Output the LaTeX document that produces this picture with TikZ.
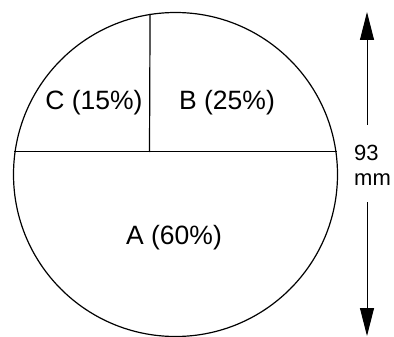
\documentclass[tikz,border=0pt]{standalone}
\usepackage{fontspec}
\setmainfont{Liberation Sans}
\usetikzlibrary{arrows.meta}
\begin{document}
\begin{tikzpicture}[x=1pt,y=-1pt,
  lbl/.style={inner sep=0pt,font=\fontsize{26.5}{30}\selectfont},
  dim/.style={inner sep=0pt,font=\fontsize{22}{24}\selectfont},
  part/.style={line width=1.2pt},
  dimline/.style={line width=1pt,-{Triangle[length=28pt,width=14pt]}}]
\useasboundingbox (0,0) rectangle (394,337);
\node[circle,draw,line width=1.2pt,minimum size=324pt,inner sep=0pt] (c) at (175.5,174.5) {};
\coordinate (m) at (149.5,152);
\draw[part] (c.172) -- (c.8);
\draw[part] (c.99.24) -- (m);
\node[lbl] (C) at (94,103) {C (15\%)};
\node[lbl] (B) at (227,103) {B (25\%)};
\node[lbl] (A) at (174,238) {A (60\%)};
\node[dim,anchor=west] (n93) at (354,153) {93};
\node[dim,anchor=west] (mm) at (354,180) {mm};
\coordinate (u1) at (367,125);
\coordinate (u2) at (367,12);
\coordinate (d1) at (367,202);
\coordinate (d2) at (367,336);
\draw[dimline] (u1) -- (u2);
\draw[dimline] (d1) -- (d2);
\end{tikzpicture}
\end{document}
